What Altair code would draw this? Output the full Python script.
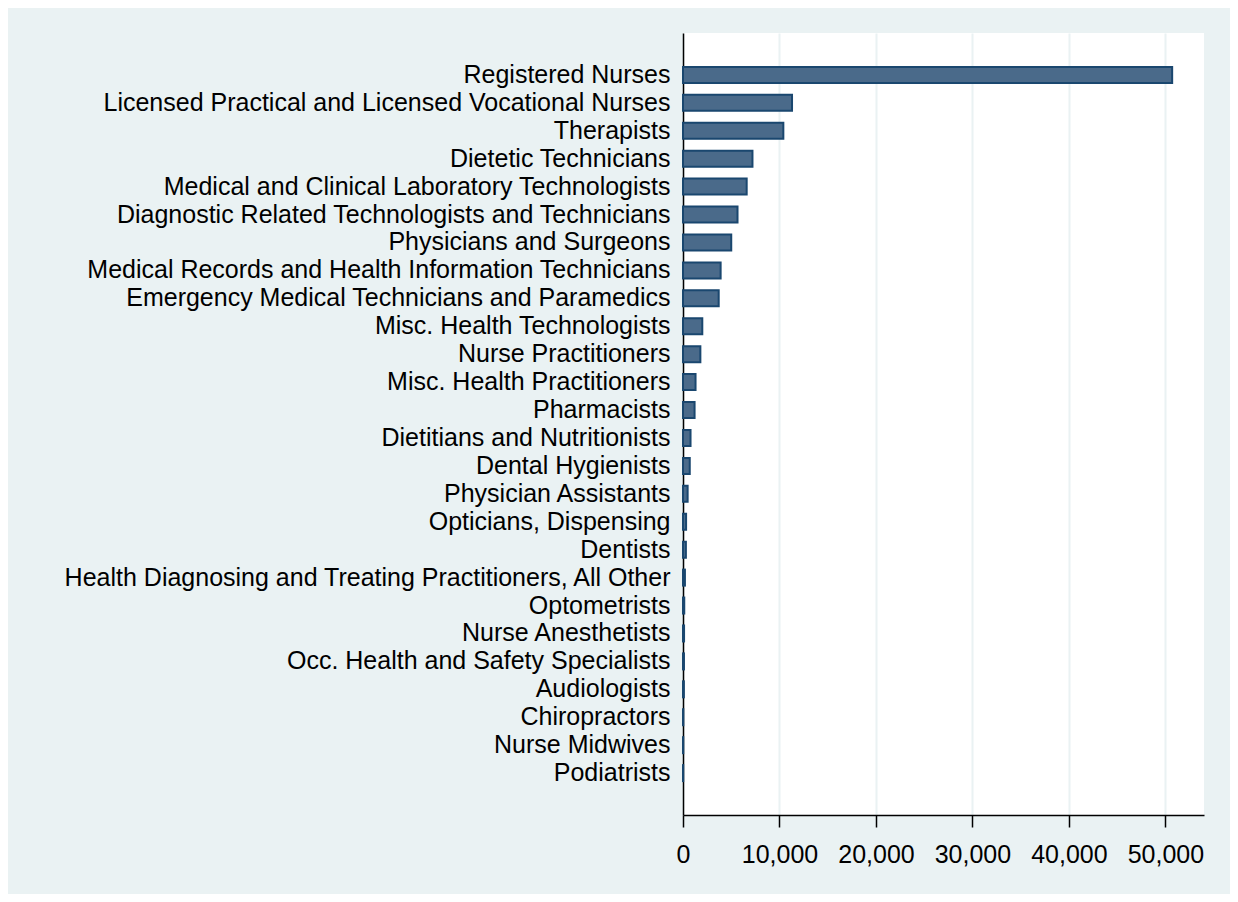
import altair as alt
import pandas as pd

occupations = [
    "Registered Nurses",
    "Licensed Practical and Licensed Vocational Nurses",
    "Therapists",
    "Dietetic Technicians",
    "Medical and Clinical Laboratory Technologists",
    "Diagnostic Related Technologists and Technicians",
    "Physicians and Surgeons",
    "Medical Records and Health Information Technicians",
    "Emergency Medical Technicians and Paramedics",
    "Misc. Health Technologists",
    "Nurse Practitioners",
    "Misc. Health Practitioners",
    "Pharmacists",
    "Dietitians and Nutritionists",
    "Dental Hygienists",
    "Physician Assistants",
    "Opticians, Dispensing",
    "Dentists",
    "Health Diagnosing and Treating Practitioners, All Other",
    "Optometrists",
    "Nurse Anesthetists",
    "Occ. Health and Safety Specialists",
    "Audiologists",
    "Chiropractors",
    "Nurse Midwives",
    "Podiatrists",
]
counts = [
    50700, 11300, 10400, 7200, 6600, 5650, 5000, 3900, 3700,
    2000, 1800, 1300, 1200, 780, 700, 480, 320, 300, 200,
    130, 110, 100, 90, 30, 25, 20,
]
x_ticks = [0, 10000, 20000, 30000, 40000, 50000]

df = pd.DataFrame({"occupation": occupations, "count": counts})

FONT = "Liberation Sans"

chart = (
    alt.Chart(df)
    .mark_bar(color="#4A6A8A", stroke="#1A476F", strokeWidth=2, size=16)
    .encode(
        x=alt.X(
            "count:Q",
            scale=alt.Scale(domain=[0, 54000], nice=False, zero=True),
            axis=alt.Axis(
                values=x_ticks,
                format=",.0f",
                title=None,
                grid=True,
                gridColor="#EAF2F3",
                gridWidth=2,
                domainColor="#000000",
                domainWidth=1.5,
                tickColor="#000000",
                tickWidth=1.5,
                tickSize=12,
                labelFont=FONT,
                labelFontSize=25,
                labelColor="#000000",
                labelPadding=15,
                labelFlush=False,
            ),
        ),
        y=alt.Y(
            "occupation:N",
            sort=occupations,
            scale=alt.Scale(paddingInner=0, paddingOuter=1),
            axis=alt.Axis(
                title=None,
                ticks=False,
                grid=False,
                domainColor="#000000",
                domainWidth=1.5,
                labelFont=FONT,
                labelFontSize=25,
                labelColor="#000000",
                labelPadding=13,
                labelLimit=1000,
            ),
        ),
    )
    .properties(
        width=521,
        height=782,
        autosize=alt.AutoSizeParams(type="none"),
        padding={"left": 675, "top": 25, "right": 26, "bottom": 79},
    )
    .configure(background="#EAF2F3")
    .configure_view(fill="#FFFFFF", stroke=None)
)

chart.save("out.html", embed_options={"renderer": "svg", "actions": False})
